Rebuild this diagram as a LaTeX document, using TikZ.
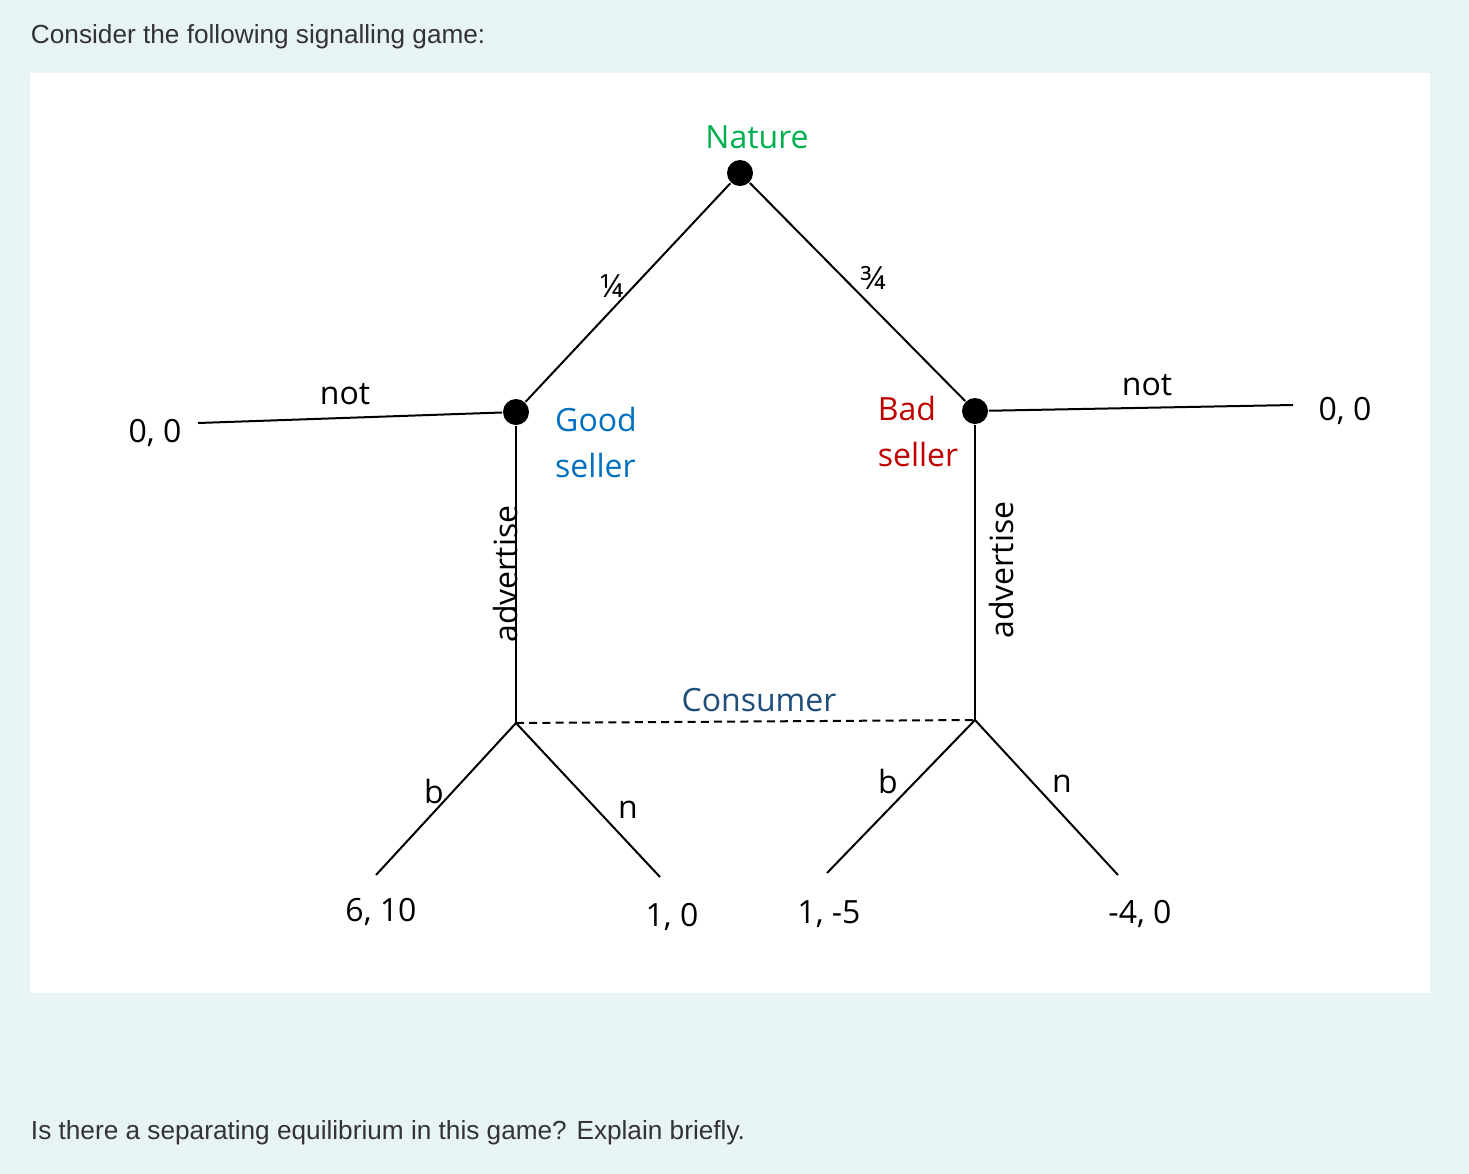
\documentclass[tikz,border=0pt]{standalone}
\usepackage{fontspec}
\setmainfont{Open Sans}
\newfontfamily\pagefont{Liberation Sans}
\usetikzlibrary{positioning}
\definecolor{pagebg}{HTML}{E8F3F5}
\definecolor{pagetext}{HTML}{333333}
\definecolor{naturegreen}{HTML}{00B050}
\definecolor{goodblue}{HTML}{0070C0}
\definecolor{badred}{HTML}{C00000}
\definecolor{consumerblue}{HTML}{1F4E79}

\begin{document}
\begin{tikzpicture}[x=0.5pt, y=-0.5pt, line width=1pt,
    dot/.style={circle, fill=black, minimum size=13pt, inner sep=0pt},
    lbl/.style={inner sep=0pt, font=\fontsize{16}{18}\selectfont}]
            \useasboundingbox [fill=pagebg] (0,0) rectangle (1469,1174);
            \fill [white] (30,73) rectangle (1430,993);
            \node [anchor=west, inner sep=0pt, text=pagetext, font=\pagefont\fontsize{13.1}{15}\selectfont] (intro) at (30,37) {Consider the following signalling game:};
            \node [anchor=west, inner sep=0pt, text=pagetext, font=\pagefont\fontsize{13.1}{15}\selectfont] (question) at (30,1133) {Is there a separating equilibrium in this game? Explain briefly.};

            % decision nodes
            \node [dot] (nature) at (740,173) {};
            \node [dot] (good) at (516,412) {};
            \node [dot] (bad) at (975,411) {};
            \coordinate (goodinfo) at (516,723);
            \coordinate (badinfo) at (975,720);

            % payoffs
            \node [lbl] (notgood) at (155,433) {0, 0};
            \node [lbl] (notbad) at (1345,411) {0, 0};
            \node [lbl] (gb) at (381,912) {6, 10};
            \node [lbl] (gn) at (672,917) {1, 0};
            \node [lbl] (bb) at (829,914) {1, -5};
            \node [lbl] (bn) at (1140,914) {-4, 0};
            \coordinate (notgoodend) at (198,423);
            \coordinate (notbadend) at (1293,405);
            \coordinate (gbend) at (376,875);
            \coordinate (gnend) at (660,877);
            \coordinate (bbend) at (827,873);
            \coordinate (bnend) at (1118,875);

            % players
            \node [lbl, text=naturegreen] (naturelbl) at (757,137) {Nature};
            \node [lbl, text=goodblue, align=left, font=\fontsize{16}{23}\selectfont] (goodlbl) at (596,442) {Good\\seller};
            \node [lbl, text=badred, align=left, font=\fontsize{16}{23}\selectfont] (badlbl) at (918,431) {Bad\\seller};
            \node [lbl, text=consumerblue] (consumerlbl) at (759,700) {Consumer};

            % edges
            \draw (nature) -- (good);
            \draw (nature) -- (bad);
            \draw (good) -- (notgoodend);
            \draw (bad) -- (notbadend);
            \draw (good) -- (goodinfo);
            \draw (bad) -- (badinfo);
            \draw [dash pattern=on 4pt off 2.6pt] (goodinfo) -- (badinfo);
            \draw (goodinfo) -- (gbend);
            \draw (goodinfo) -- (gnend);
            \draw (badinfo) -- (bbend);
            \draw (badinfo) -- (bnend);

            % action labels
            \node [lbl] (quarter) at (612,286) {¼};
            \node [lbl] (threeq) at (873,278) {¾};
            \node [lbl] (notl) at (345,394) {not};
            \node [lbl] (notr) at (1147,385) {not};
            \node [lbl, rotate=90] (advl) at (505,574) {advertise};
            \node [lbl, rotate=90] (advr) at (1001,570) {advertise};
            \node [lbl] (bl) at (434,791) {b};
            \node [lbl] (nl) at (628,810) {n};
            \node [lbl] (br) at (888,781) {b};
            \node [lbl] (nr) at (1062,784) {n};
          \end{tikzpicture}
\end{document}
